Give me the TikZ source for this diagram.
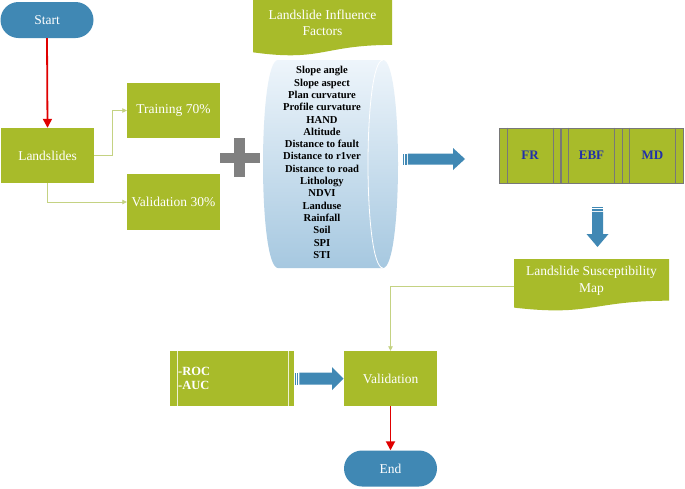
\documentclass[tikz,border=0pt]{standalone}
\usepackage{fontspec}
\setmainfont{Liberation Serif}
\usetikzlibrary{arrows.meta}
\definecolor{olive}{RGB}{168,187,42}
\definecolor{pillblue}{RGB}{64,136,180}
\definecolor{thinline}{RGB}{196,210,130}
\definecolor{plusgray}{RGB}{128,128,128}
\definecolor{navy}{RGB}{34,48,170}
\definecolor{redline}{RGB}{224,0,0}
\definecolor{scrolltop}{RGB}{238,245,251}
\definecolor{scrollmid}{RGB}{196,220,237}
\definecolor{scrollbot}{RGB}{166,200,224}
\definecolor{boxline}{RGB}{120,120,120}
\tikzset{
  greenbox/.style={fill=olive, draw=none, text=white, inner sep=0pt,
    font=\fontsize{13.5}{15}\selectfont},
  pill/.style={fill=pillblue, draw=none, text=white, inner sep=0pt,
    rounded corners=18pt, minimum width=93pt, minimum height=36pt,
    font=\fontsize{13.5}{15}\selectfont},
  redarrow/.style={draw=redline, line width=1.8pt, -{Triangle[width=9pt,length=9pt]}},
  thinarrow/.style={draw=thinline, line width=0.8pt, -{Triangle[width=4.5pt,length=4.5pt]}},
  methodbox/.style={fill=olive, draw=boxline, line width=0.7pt, inner sep=0pt,
    minimum width=61pt, minimum height=55pt, text=navy,
    font=\fontsize{13}{14}\selectfont\bfseries},
  blockfill/.style={fill=pillblue, draw=none},
}
\begin{document}
\begin{tikzpicture}[x=1pt,y=-1pt]
\useasboundingbox (0,0) rectangle (685,488);
\fill[white] (0,0) rectangle (685,488);

% Start / End
\node[pill] (start) at (47,20) {Start};
\node[pill] (end) at (390.5,468.5) {End};

% left boxes
\node[greenbox, minimum width=93pt, minimum height=55pt] (land) at (47.5,155.5) {Landslides};
\node[greenbox, minimum width=93pt, minimum height=55pt] (train) at (173.5,110.5) {Training 70\%};
\node[greenbox, minimum width=93pt, minimum height=56pt] (val30) at (173.5,202) {Validation 30\%};

\draw[redarrow] (start.south) -- (land.north);
\draw[thinarrow] (land.east) -- (112,155.5) |- (train.west);
\draw[thinarrow] (land.south) |- (val30.west);

% plus sign
\fill[plusgray] (220,153) rectangle (260,163);
\fill[plusgray] (233.5,138) rectangle (244.5,177);

% scroll (cylinder)
\shade[top color=scrolltop, middle color=scrollmid, bottom color=scrollbot]
  (278,60) -- (383,60) .. controls (403,60) and (403,268) .. (383,268)
  -- (278,268) .. controls (258,268) and (258,60) .. (278,60) -- cycle;
\draw[white, line width=0.8pt] (383,60) .. controls (363,60) and (363,268) .. (383,268);
\node[align=center, inner sep=0pt, font=\fontsize{10.6}{12.3}\selectfont\bfseries] (factors) at (322,162.5)
  {Slope angle\\Slope aspect\\Plan curvature\\Profile curvature\\HAND\\Altitude\\Distance to fault\\Distance to r1ver\\Distance to road\\Lithology\\NDVI\\Landuse\\Rainfall\\Soil\\SPI\\STI};

% Landslide Influence Factors banner
\fill[olive] (253,0) -- (392,0) -- (392,44.9) .. controls (322.5,44.9) and (322.5,62) .. (253,52.3) -- cycle;
\node[align=center, text=white, inner sep=0pt, font=\fontsize{13.5}{16}\selectfont] (lif) at (322.5,23) {Landslide Influence\\Factors};

% block arrow factors -> methods
\fill[pillblue] (403,153.5) rectangle (404.2,164.5);
\fill[pillblue] (405.3,153.5) rectangle (406.5,164.5);
\fill[blockfill] (407.8,153.5) -- (453,153.5) -- (453,148) -- (465,159) -- (453,170) -- (453,164.5) -- (407.8,164.5) -- cycle;

% methods
\node[methodbox] (fr) at (530,155.5) {FR};
\node[methodbox] (ebf) at (591.5,155.5) {EBF};
\node[methodbox] (md) at (652.5,155.5) {MD};
\foreach \n in {fr,ebf,md}{
  \draw[boxline, line width=0.7pt] ([xshift=7.7pt]\n.north west) -- ([xshift=7.7pt]\n.south west);
  \draw[boxline, line width=0.7pt] ([xshift=-7.7pt]\n.north east) -- ([xshift=-7.7pt]\n.south east);
}

% down block arrow
\fill[pillblue] (592,207) rectangle (603,208.2);
\fill[pillblue] (592,209.3) rectangle (603,210.5);
\fill[blockfill] (592,211.8) -- (592,234) -- (586.5,234) -- (597.5,247) -- (608.5,234) -- (603,234) -- (603,211.8) -- cycle;

% Landslide Susceptibility Map
\fill[olive] (514,259) -- (669,259) -- (669,300.7) .. controls (591.5,300.7) and (591.5,316.6) .. (514,307.6) -- cycle;
\node[align=center, text=white, inner sep=0pt, font=\fontsize{13.5}{17}\selectfont] (lsm) at (591.5,280.5) {Landslide Susceptibility\\Map};
\coordinate (lsmW) at (514,286.5);

% Validation
\node[greenbox, minimum width=93pt, minimum height=55pt] (valid) at (390.5,378.5) {Validation};
\draw[thinarrow] (lsmW) -| (valid.north);
\draw[redarrow] (valid.south) -- (end.north);

% ROC box
\node[greenbox, minimum width=124pt, minimum height=55pt] (roc) at (232,378.5) {};
\draw[white!80!olive, line width=0.7pt] (177,351) -- (177,406);
\draw[white!80!olive, line width=0.7pt] (288,351) -- (288,406);
\node[anchor=west, align=left, text=white, inner sep=0pt, font=\fontsize{12.5}{13.5}\selectfont\bfseries] (roctext) at (178,378.5) {-ROC\\-AUC};

% block arrow ROC -> Validation
\fill[pillblue] (294.5,372.5) rectangle (295.7,384.5);
\fill[pillblue] (296.8,372.5) rectangle (298,384.5);
\fill[blockfill] (299.3,372.5) -- (332,372.5) -- (332,367) -- (343.5,378.5) -- (332,390) -- (332,384.5) -- (299.3,384.5) -- cycle;
\end{tikzpicture}
\end{document}
